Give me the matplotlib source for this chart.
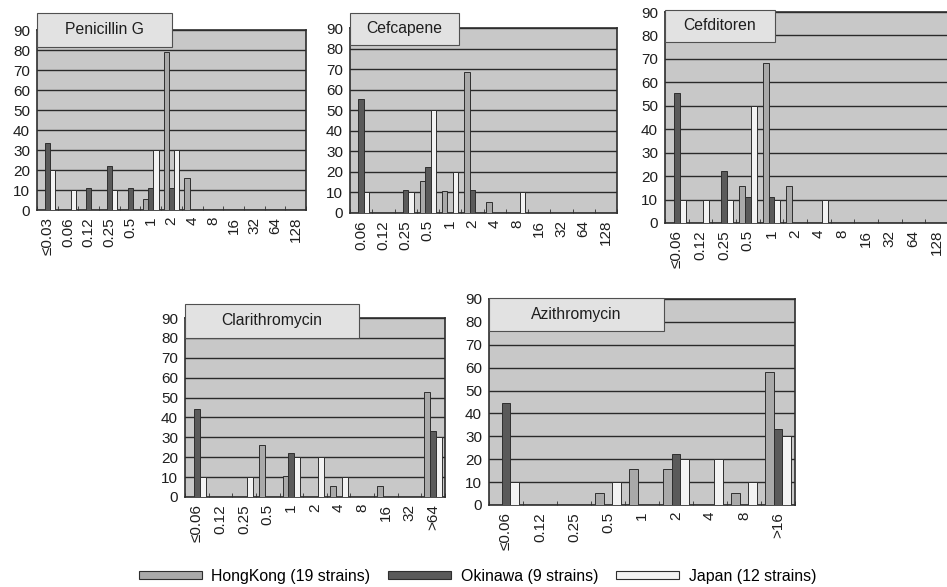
import numpy as np
import matplotlib
matplotlib.use("Agg")
import matplotlib.pyplot as plt
from matplotlib.patches import Rectangle, Patch

plt.rcParams['font.family'] = ['Liberation Sans', 'DejaVu Sans']

# ---------------- data ----------------
series_names = ['HongKong (19 strains)', 'Okinawa (9 strains)', 'Japan (12 strains)']

pen_cats = ['≤0.03', '0.06', '0.12', '0.25', '0.5', '1', '2', '4', '8', '16', '32', '64', '128']
pen_hk = [0, 0, 0, 0, 0, 5.3, 78.9, 15.8, 0, 0, 0, 0, 0]
pen_ok = [33.3, 0, 11.1, 22.2, 11.1, 11.1, 11.1, 0, 0, 0, 0, 0, 0]
pen_jp = [20, 10, 0, 10, 0, 30, 30, 0, 0, 0, 0, 0, 0]

cfp_cats = ['0.06', '0.12', '0.25', '0.5', '1', '2', '4', '8', '16', '32', '64', '128']
cfp_hk = [0, 0, 0, 15.8, 10.5, 68.4, 5.3, 0, 0, 0, 0, 0]
cfp_ok = [55.6, 0, 11.1, 22.2, 0, 11.1, 0, 0, 0, 0, 0, 0]
cfp_jp = [10, 0, 10, 50, 20, 0, 0, 10, 0, 0, 0, 0]

cfd_cats = ['≤0.06', '0.12', '0.25', '0.5', '1', '2', '4', '8', '16', '32', '64', '128']
cfd_hk = [0, 0, 0, 15.8, 68.4, 15.8, 0, 0, 0, 0, 0, 0]
cfd_ok = [55.6, 0, 22.2, 11.1, 11.1, 0, 0, 0, 0, 0, 0, 0]
cfd_jp = [10, 10, 10, 50, 10, 0, 10, 0, 0, 0, 0, 0]

cla_cats = ['≤0.06', '0.12', '0.25', '0.5', '1', '2', '4', '8', '16', '32', '>64']
cla_hk = [0, 0, 0, 26.3, 10.5, 0, 5.3, 0, 5.3, 0, 52.6]
cla_ok = [44.4, 0, 0, 0, 22.2, 0, 0, 0, 0, 0, 33.3]
cla_jp = [10, 0, 10, 0, 20, 20, 10, 0, 0, 0, 30]

azi_cats = ['≤0.06', '0.12', '0.25', '0.5', '1', '2', '4', '8', '>16']
azi_hk = [0, 0, 0, 5.3, 15.8, 15.8, 0, 5.3, 57.9]
azi_ok = [44.4, 0, 0, 0, 0, 22.2, 0, 0, 33.3]
azi_jp = [10, 0, 0, 10, 0, 20, 20, 10, 30]

y_ticks = [0, 10, 20, 30, 40, 50, 60, 70, 80, 90]

# ---------------- style ----------------
W, H = 947, 587
bg = '#c8c8c8'
box_c = '#e2e2e2'
hk_c = '#a9a9a9'
ok_c = '#5a5a5a'
jp_c = '#f3f3f3'
edge = '#2e2e2e'
grid_c = '#2a2a2a'
txt_c = '#1e1e1e'

fig = plt.figure(figsize=(W / 100, H / 100), dpi=100)


def panel(rect_px, box_px, title, cats, hk, ok, jp):
    l, r, t, b = rect_px
    ax = fig.add_axes([l / W, 1 - b / H, (r - l) / W, (b - t) / H])
    ax.set_facecolor(bg)
    x = np.arange(len(cats))
    w = 0.25
    for off, vals, col in ((-w, hk, hk_c), (0, ok, ok_c), (w, jp, jp_c)):
        ax.bar(x + off, vals, w, color=col, edgecolor=edge, linewidth=0.7, zorder=3)
    ax.set_ylim(0, 90)
    ax.set_yticks(y_ticks)
    ax.yaxis.grid(True, color=grid_c, linewidth=1.0)
    ax.set_axisbelow(True)
    ax.set_xlim(-0.5, len(cats) - 0.5)
    ax.set_xticks(x)
    ax.set_xticklabels(cats, rotation=90)
    ax.set_xticks(np.arange(len(cats) + 1) - 0.5, minor=True)
    ax.tick_params(axis='x', which='major', length=0, pad=5, labelsize=11, labelcolor=txt_c)
    ax.tick_params(axis='x', which='minor', direction='in', length=3, color=edge)
    ax.tick_params(axis='y', length=0, pad=5, labelsize=11, labelcolor=txt_c)
    for s in ax.spines.values():
        s.set_color(edge)
        s.set_linewidth(1.2)
    bl, br, bt, bb = box_px
    fig.patches.append(Rectangle((bl / W, 1 - bb / H), (br - bl) / W, (bb - bt) / H,
                                 transform=fig.transFigure, facecolor=box_c,
                                 edgecolor='#505050', linewidth=0.8, zorder=5))
    fig.text((bl + br) / 2 / W, 1 - (bt + bb) / 2 / H, title, ha='center', va='center',
             fontsize=11.3, color=txt_c, zorder=6)
    return ax


panel((37, 306, 30, 210), (37, 172, 13, 47), 'Penicillin G', pen_cats, pen_hk, pen_ok, pen_jp)
panel((350, 617, 28, 213), (350, 459, 13, 45), 'Cefcapene', cfp_cats, cfp_hk, cfp_ok, cfp_jp)
panel((665, 949, 12, 223), (665, 775, 10, 42), 'Cefditoren', cfd_cats, cfd_hk, cfd_ok, cfd_jp)
panel((185, 445, 318, 497), (185, 359, 304, 338), 'Clarithromycin', cla_cats, cla_hk, cla_ok, cla_jp)
panel((489, 795, 299, 505), (489, 664, 298, 331), 'Azithromycin', azi_cats, azi_hk, azi_ok, azi_jp)

handles = [Patch(facecolor=c, edgecolor=edge, linewidth=0.8, label=n)
           for c, n in zip((hk_c, ok_c, jp_c), series_names)]
fig.legend(handles=handles, loc='center', bbox_to_anchor=(0.504, 1 - 576 / H), ncol=3,
           frameon=False, fontsize=11.4, handlelength=4.0, handleheight=0.45,
           handletextpad=0.6, columnspacing=1.1, borderpad=0, borderaxespad=0)

fig.savefig('out.png', dpi=100)
